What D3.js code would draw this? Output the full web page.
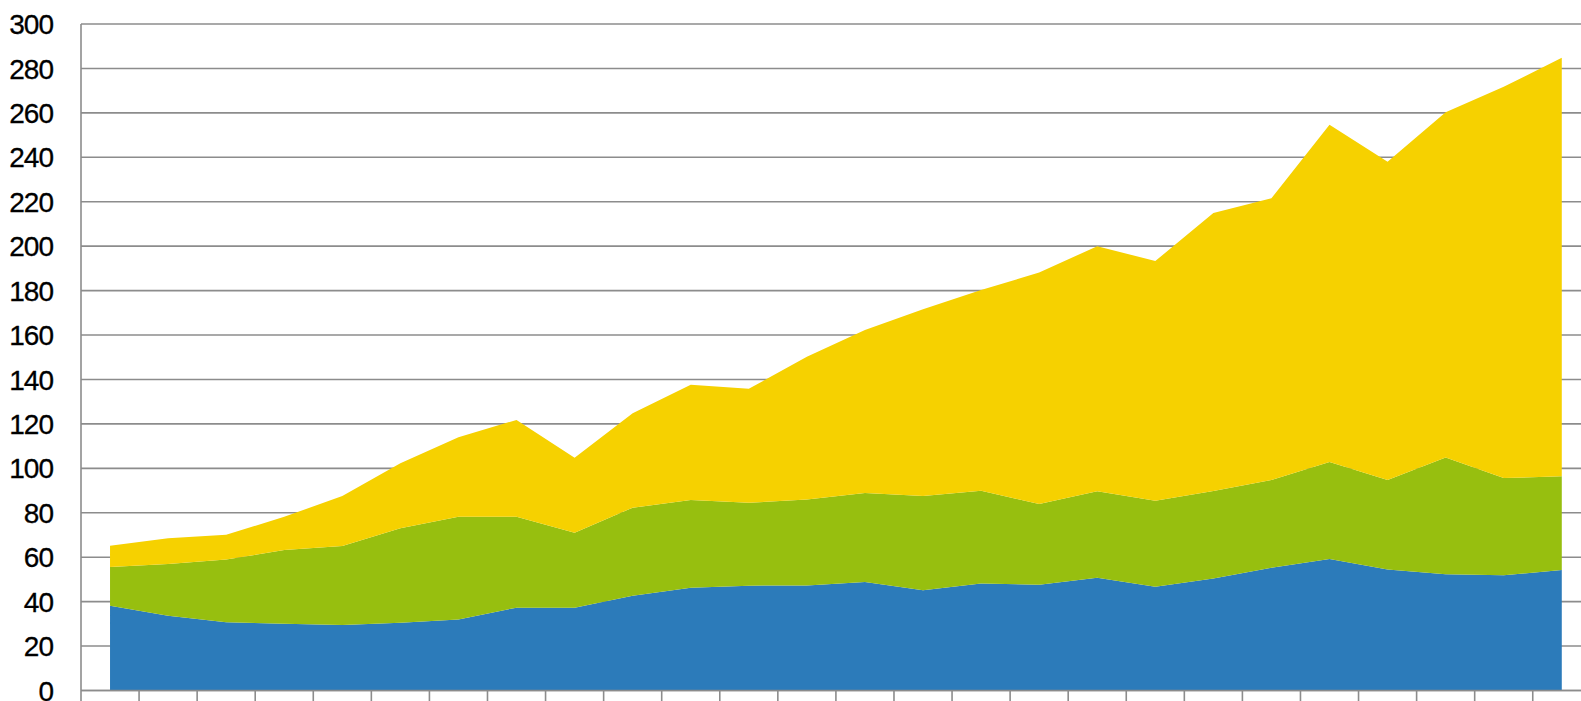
<html>
<head>
  <script src="https://d3js.org/d3.v7.min.js"></script>
</head>
<body style="margin:0; background:#fff;">
<div id="chart"></div>
<script>
// data (x labels are cut off in the original, so just indices)
var categories = d3.range(1, 27);
var blue   = [38.2, 33.7, 30.7, 30.1, 29.5, 30.5, 32.0, 37.3, 37.3, 42.7, 46.3, 47.2, 47.3, 48.8, 45.1, 48.2, 47.6, 50.8, 46.7, 50.4, 55.2, 59.2, 54.5, 52.3, 51.9, 54.2];
var green  = [17.4, 23.2, 28.3, 33.1, 35.5, 42.5, 46.2, 40.9, 33.7, 39.6, 39.4, 37.3, 38.7, 40.1, 42.4, 41.7, 36.3, 38.9, 38.7, 39.4, 39.6, 43.6, 40.2, 52.6, 43.7, 42.2];
var yellow = [9.6, 11.6, 11.1, 15.0, 22.5, 29.3, 35.8, 43.6, 33.8, 42.5, 51.9, 51.3, 64.2, 73.4, 84.1, 90.4, 104.2, 110.3, 107.9, 125.1, 126.8, 151.8, 143.3, 155.4, 176.1, 188.4];
var yTicks = d3.range(0, 301, 20);

var seriesKeys = ["blue", "green", "yellow"];
var colors = {blue: "#2c7bba", green: "#97bf0f", yellow: "#f6d100"};

var width = 1581, height = 701;
var plotLeft = 81, plotTop = 24, plotBottom = 690.5;
var band = 58.07;

var rows = categories.map(function(c, i) {
  return {cat: c, blue: blue[i], green: green[i], yellow: yellow[i]};
});

var svg = d3.select("#chart").append("svg")
  .attr("width", width)
  .attr("height", height);

var x = d3.scaleBand()
  .domain(categories)
  .range([plotLeft, plotLeft + band * categories.length])
  .padding(0);

var y = d3.scaleLinear()
  .domain([0, 300])
  .range([plotBottom, plotTop]);

// gridlines
svg.append("g")
  .selectAll("line")
  .data(yTicks)
  .enter().append("line")
    .attr("x1", plotLeft)
    .attr("x2", width)
    .attr("y1", function(d) { return y(d); })
    .attr("y2", function(d) { return y(d); })
    .attr("stroke", "#8c8c8c")
    .attr("stroke-width", 1.6);

// y labels
svg.append("g")
  .selectAll("text")
  .data(yTicks)
  .enter().append("text")
    .attr("x", 53)
    .attr("y", function(d) { return y(d); })
    .attr("dy", "0.36em")
    .attr("text-anchor", "end")
    .style("font-family", "'Liberation Sans', Arial, sans-serif")
    .style("font-size", "28px")
    .style("letter-spacing", "-1px")
    .style("fill", "#000")
    .style("stroke", "#000")
    .style("stroke-width", 0.3)
    .text(function(d) { return d; });

// stacked areas
var stack = d3.stack().keys(seriesKeys);
var layers = stack(rows);

var area = d3.area()
  .x(function(d) { return x(d.data.cat) + x.bandwidth() / 2; })
  .y0(function(d) { return y(d[0]); })
  .y1(function(d) { return y(d[1]); });

svg.append("g")
  .selectAll("path")
  .data(layers)
  .enter().append("path")
    .attr("d", area)
    .attr("fill", function(d) { return colors[d.key]; });

// x axis line + ticks at band edges
var edges = categories.map(function(c) { return x(c); });
svg.append("line")
  .attr("x1", plotLeft).attr("x2", width)
  .attr("y1", plotBottom).attr("y2", plotBottom)
  .attr("stroke", "#8c8c8c").attr("stroke-width", 1.6);

svg.append("g")
  .selectAll("line")
  .data(edges.slice(1))
  .enter().append("line")
    .attr("x1", function(d) { return d; })
    .attr("x2", function(d) { return d; })
    .attr("y1", plotBottom)
    .attr("y2", plotBottom + 14)
    .attr("stroke", "#8c8c8c")
    .attr("stroke-width", 1.6);

// y axis line
svg.append("line")
  .attr("x1", plotLeft).attr("x2", plotLeft)
  .attr("y1", plotTop).attr("y2", height)
  .attr("stroke", "#8c8c8c").attr("stroke-width", 1.6);
</script>
</body>
</html>
